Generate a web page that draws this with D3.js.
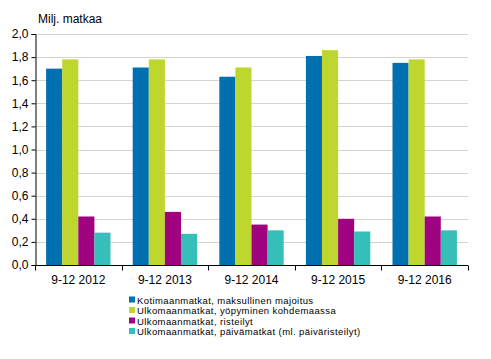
<!DOCTYPE html>
<html>
<head>
<meta charset="utf-8">
<script src="https://cdn.jsdelivr.net/npm/d3@7"></script>
<style>
  body { margin: 0; background: #fff; }
  svg { display: block; font-family: Arial, "Liberation Sans", sans-serif; }
</style>
</head>
<body>
<div class="chart"></div>
<script>
// chart data
const categories = ["9-12 2012", "9-12 2013", "9-12 2014", "9-12 2015", "9-12 2016"];
const seriesNames = [
    "Kotimaanmatkat, maksullinen majoitus",
    "Ulkomaanmatkat, yöpyminen kohdemaassa",
    "Ulkomaanmatkat, risteilyt",
    "Ulkomaanmatkat, päivämatkat (ml. päiväristeilyt)"
];
const kotimaa = [1.70, 1.71, 1.63, 1.81, 1.75];
const yopyminen = [1.78, 1.78, 1.71, 1.86, 1.78];
const risteilyt = [0.42, 0.46, 0.35, 0.40, 0.42];
const paivamatkat = [0.28, 0.27, 0.30, 0.29, 0.30];
const yTicks = [0, 0.2, 0.4, 0.6, 0.8, 1.0, 1.2, 1.4, 1.6, 1.8, 2.0];

const colors = ["#0070b0", "#bfd62f", "#a0037f", "#36bfb8"];
const series = [kotimaa, yopyminen, risteilyt, paivamatkat];

const width = 491, height = 359;
const margin = {left: 35, right: 23, top: 34, bottom: 94};

const svg = d3.select(".chart").append("svg")
    .attr("width", width).attr("height", height);

const x0 = d3.scaleBand().domain(categories)
    .range([margin.left, width - margin.right])
    .paddingInner(0).paddingOuter(0);
// bars take about 3/4 of each category
const x1 = d3.scaleBand().domain(d3.range(series.length))
    .range([0, x0.bandwidth()])
    .paddingOuter(0.69).paddingInner(0);
const y = d3.scaleLinear().domain([0, 2]).range([height - margin.bottom, margin.top]);

// gridlines
svg.append("g").selectAll("line").data(yTicks.slice(1)).enter().append("line")
    .attr("x1", margin.left).attr("x2", width - margin.right)
    .attr("y1", d => Math.round(y(d)) + 0.5).attr("y2", d => Math.round(y(d)) + 0.5)
    .attr("stroke", "#d4d4d4").attr("stroke-width", 1);

// bars
const groups = svg.append("g").selectAll("g").data(categories).enter().append("g")
    .attr("transform", d => `translate(${x0(d)},0)`);
groups.selectAll("rect")
    .data((d, i) => series.map((s, j) => ({j: j, v: s[i]})))
    .enter().append("rect")
    .attr("x", d => x1(d.j))
    .attr("width", x1.bandwidth())
    .attr("y", d => y(d.v))
    .attr("height", d => y(0) - y(d.v))
    .attr("fill", d => colors[d.j]);

// y axis
const yAxis = d3.axisLeft(y).tickValues(yTicks).tickSize(4)
    .tickFormat(d => d3.format(".1f")(d).replace(".", ","));
const yg = svg.append("g").attr("transform", `translate(${margin.left + 0.5},0)`).call(yAxis);
yg.select(".domain").attr("stroke", "#000");
yg.selectAll(".tick line").attr("stroke", "#000");
yg.selectAll(".tick text").attr("font-size", "12px").attr("fill", "#000").attr("x", -7);

// x axis with separator ticks
const base = Math.round(y(0)) + 0.5;
svg.append("line").attr("x1", margin.left).attr("x2", width - margin.right)
    .attr("y1", base).attr("y2", base).attr("stroke", "#000");
const seps = categories.map(c => x0(c)).concat([x0(categories[categories.length - 1]) + x0.bandwidth()]);
svg.append("g").selectAll("line").data(seps).enter().append("line")
    .attr("x1", d => Math.round(d) + 0.5).attr("x2", d => Math.round(d) + 0.5)
    .attr("y1", base).attr("y2", base + 5).attr("stroke", "#000");
svg.append("g").selectAll("text").data(categories).enter().append("text")
    .attr("x", d => x0(d) + x0.bandwidth() / 2)
    .attr("y", 284)
    .attr("text-anchor", "middle")
    .attr("font-size", "12px")
    .text(d => d);

// unit label
svg.append("text").attr("x", 38).attr("y", 23).attr("font-size", "12px").text("Milj. matkaa");

// legend
const legend = svg.append("g").selectAll("g").data(seriesNames).enter().append("g")
    .attr("transform", (d, i) => `translate(129,${295 + i * 10.5})`);
legend.append("rect").attr("width", 6).attr("height", 6).attr("y", 1.5)
    .attr("fill", (d, i) => colors[i]);
legend.append("text").attr("x", 8).attr("y", 8.5)
    .attr("font-size", "9.5px").attr("letter-spacing", "0.4px")
    .text(d => d);
</script>
</body>
</html>
